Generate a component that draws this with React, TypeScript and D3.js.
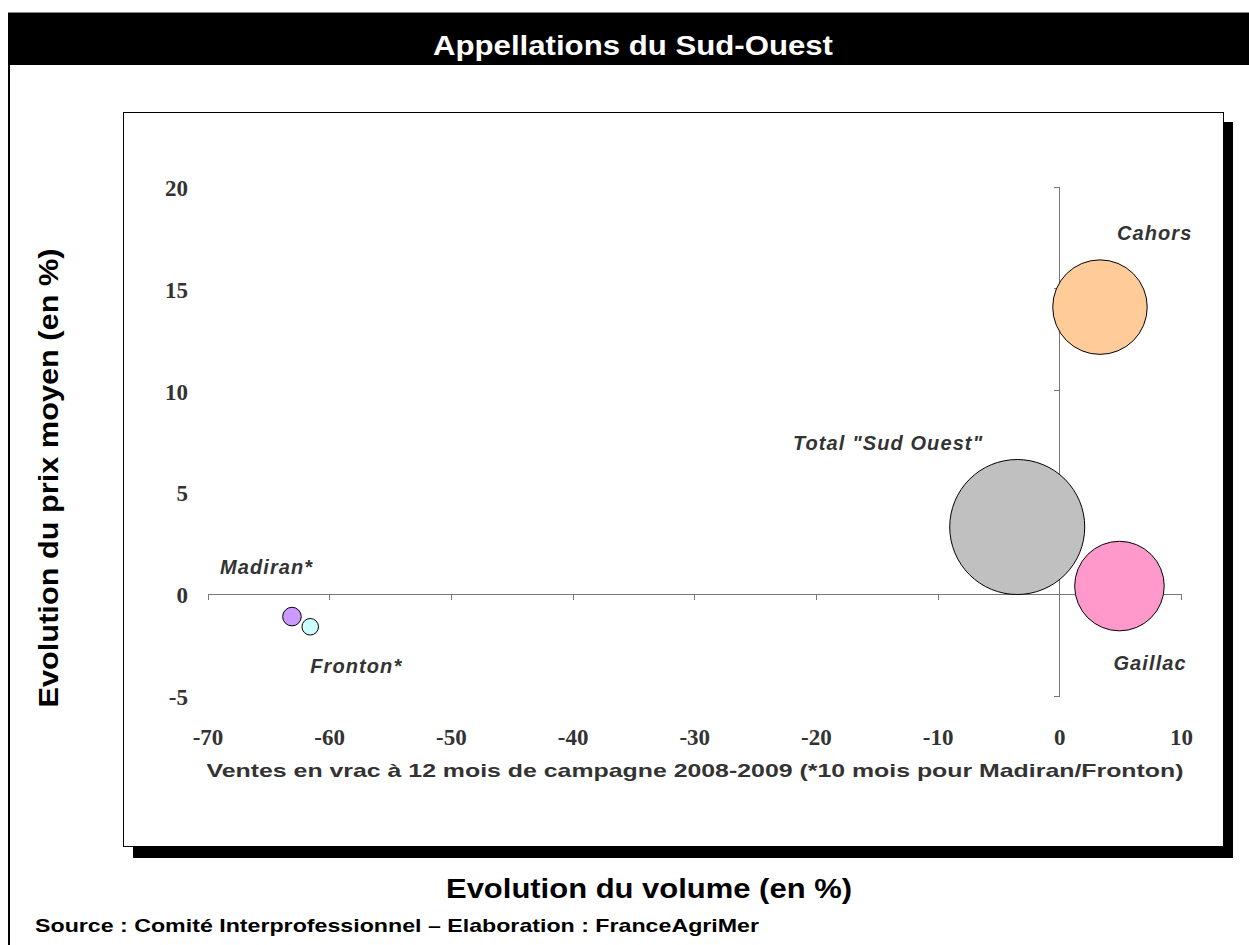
import React, { useEffect, useRef } from 'react'
import * as d3 from 'd3'

// Appellations du Sud-Ouest, evolution volume vs prix
const appellations = ['Cahors', 'Total "Sud Ouest"', 'Gaillac', 'Madiran*', 'Fronton*']
const volumeChange = [3.3, -3.5, 4.9, -63.1, -61.6]
const priceChange = [14.1, 3.3, 0.4, -1.1, -1.6]
const bubbleSize = [49, 100, 44, 1.9, 1.5]
const xTicks = [-70, -60, -50, -40, -30, -20, -10, 0, 10]
const yTicks = [-5, 0, 5, 10, 15, 20]

const bubbleColors = ['#FFCC99', '#C0C0C0', '#FF99CC', '#CC99FF', '#CCFFFF']
// label placement relative to bubble centre (px)
const labelOffsets: [number, number, string][] = [
  [17, -67, 'start'],
  [-34, -77, 'end'],
  [-6, 84, 'start'],
  [-72, -43, 'start'],
  [0, 46, 'start'],
]

const W = 1249
const H = 945
const SANS = '"Liberation Sans", Arial, sans-serif'
const SERIF = '"Liberation Serif", "Times New Roman", serif'

export default function App() {
  const ref = useRef<SVGSVGElement>(null)

  useEffect(() => {
    const svg = d3.select(ref.current)
    svg.selectAll('*').remove()

    const x = d3.scaleLinear().domain([-70, 10]).range([208, 1181.5])
    const y = d3.scaleLinear().domain([-5, 20]).range([696, 187])
    const r = d3.scaleSqrt().domain([0, 100]).range([0, 67.5])

    // outer frame + title bar
    svg.append('rect').attr('width', W).attr('height', H).attr('fill', '#fff')
    svg.append('line').attr('x1', 9).attr('x2', 9).attr('y1', 12).attr('y2', H)
      .attr('stroke', '#000').attr('stroke-width', 2)
    svg.append('rect').attr('x', 8).attr('y', 12).attr('width', W - 8).attr('height', 53).attr('fill', '#000')
    svg.append('line').attr('x1', 8).attr('x2', W).attr('y1', 12.5).attr('y2', 12.5).attr('stroke', '#888')
    svg.append('text').attr('x', 633).attr('y', 55).attr('text-anchor', 'middle')
      .attr('font-family', SANS).attr('font-weight', 'bold').attr('font-size', 27)
      .attr('fill', '#fff').attr('textLength', 400).attr('lengthAdjust', 'spacingAndGlyphs')
      .text('Appellations du Sud-Ouest')

    // plot box with shadow
    svg.append('rect').attr('x', 133).attr('y', 122).attr('width', 1100).attr('height', 736).attr('fill', '#000')
    svg.append('rect').attr('x', 123.5).attr('y', 112.5).attr('width', 1100).attr('height', 734)
      .attr('fill', '#fff').attr('stroke', '#000').attr('stroke-width', 1)

    const axisColor = '#777'
    const g = svg.append('g').attr('shape-rendering', 'crispEdges')
    // x axis at y = 0
    g.append('line').attr('x1', x(-70)).attr('x2', x(10)).attr('y1', y(0)).attr('y2', y(0)).attr('stroke', axisColor)
    g.selectAll('.xt').data(xTicks).enter().append('line')
      .attr('x1', d => x(d)).attr('x2', d => x(d)).attr('y1', y(0)).attr('y2', y(0) + 6).attr('stroke', axisColor)
    // y axis at x = 0
    g.append('line').attr('x1', x(0)).attr('x2', x(0)).attr('y1', y(20)).attr('y2', y(-5)).attr('stroke', axisColor)
    g.selectAll('.yt').data(yTicks).enter().append('line')
      .attr('x1', x(0) - 6).attr('x2', x(0)).attr('y1', d => y(d)).attr('y2', d => y(d)).attr('stroke', axisColor)

    svg.selectAll('.xl').data(xTicks).enter().append('text')
      .attr('x', d => x(d)).attr('y', 745).attr('text-anchor', 'middle')
      .attr('font-family', SERIF).attr('font-weight', 'bold').attr('font-size', 23).attr('fill', '#333')
      .text(d => d)
    svg.selectAll('.yl').data(yTicks).enter().append('text')
      .attr('x', 188).attr('y', d => y(d) + 9).attr('text-anchor', 'end')
      .attr('font-family', SERIF).attr('font-weight', 'bold').attr('font-size', 23).attr('fill', '#333')
      .text(d => d)

    // bubbles, biggest first
    const idx = d3.range(appellations.length).sort((a, b) => bubbleSize[b] - bubbleSize[a])
    svg.selectAll('.bub').data(idx).enter().append('circle')
      .attr('cx', i => x(volumeChange[i])).attr('cy', i => y(priceChange[i]))
      .attr('r', i => r(bubbleSize[i]))
      .attr('fill', i => bubbleColors[i]).attr('stroke', '#000').attr('stroke-width', 1)

    svg.selectAll('.lab').data(d3.range(appellations.length)).enter().append('text')
      .attr('x', i => x(volumeChange[i]) + labelOffsets[i][0])
      .attr('y', i => y(priceChange[i]) + labelOffsets[i][1])
      .attr('text-anchor', i => labelOffsets[i][2])
      .attr('font-family', SANS).attr('font-weight', 'bold').attr('font-style', 'italic')
      .attr('font-size', 20).attr('letter-spacing', 1.1).attr('fill', '#333')
      .text(i => appellations[i])

    svg.append('text').attr('x', 695).attr('y', 777).attr('text-anchor', 'middle')
      .attr('font-family', SANS).attr('font-weight', 'bold').attr('font-size', 19).attr('fill', '#333')
      .attr('textLength', 977).attr('lengthAdjust', 'spacingAndGlyphs')
      .text('Ventes en vrac à 12 mois de campagne 2008-2009 (*10 mois pour Madiran/Fronton)')

    // outer axis titles and source
    svg.append('text').attr('transform', 'translate(58,478) rotate(-90)').attr('text-anchor', 'middle')
      .attr('font-family', SANS).attr('font-weight', 'bold').attr('font-size', 27).attr('fill', '#000')
      .attr('textLength', 459).attr('lengthAdjust', 'spacingAndGlyphs')
      .text('Evolution du prix moyen (en %)')
    svg.append('text').attr('x', 649).attr('y', 898).attr('text-anchor', 'middle')
      .attr('font-family', SANS).attr('font-weight', 'bold').attr('font-size', 27).attr('fill', '#000')
      .attr('textLength', 406).attr('lengthAdjust', 'spacingAndGlyphs')
      .text('Evolution du volume (en %)')
    svg.append('text').attr('x', 35).attr('y', 932)
      .attr('font-family', SANS).attr('font-weight', 'bold').attr('font-size', 18.5).attr('fill', '#000')
      .attr('textLength', 724).attr('lengthAdjust', 'spacingAndGlyphs')
      .text('Source : Comité Interprofessionnel – Elaboration : FranceAgriMer')
  }, [])

  return (
    <svg ref={ref} width={W} height={H}
      style={{ position: 'absolute', left: 0, top: 0, display: 'block' }} />
  )
}
